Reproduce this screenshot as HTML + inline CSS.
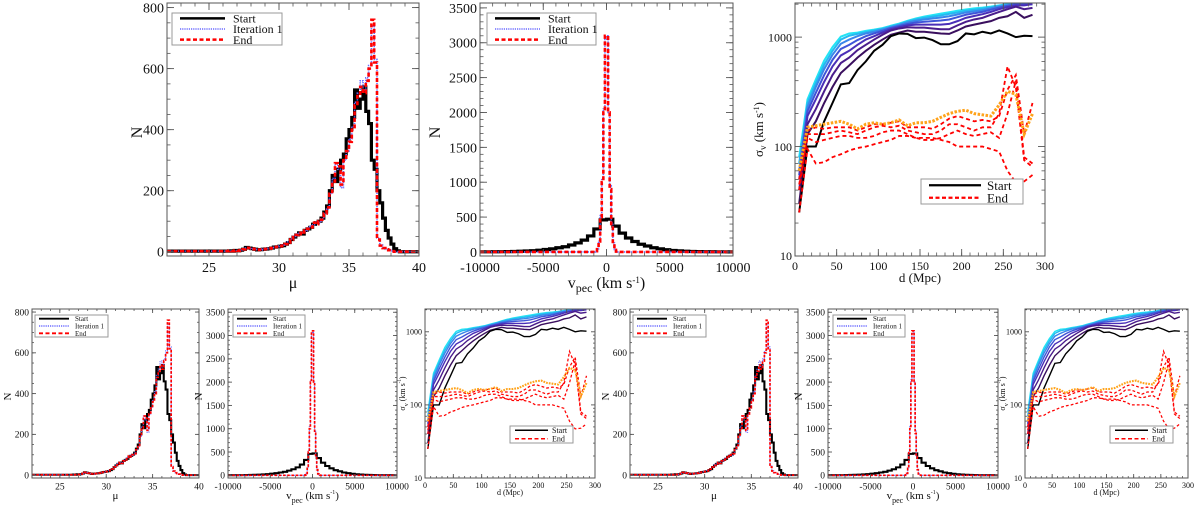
<!DOCTYPE html>
<html><head><meta charset="utf-8">
<style>
html,body{margin:0;padding:0;background:#fff;}
svg{display:block;}
svg text{font-family:"Liberation Serif","DejaVu Serif",serif;}
</style></head>
<body>
<svg id="fig" width="1200" height="508" viewBox="0 0 1200 508" xmlns="http://www.w3.org/2000/svg" font-family="Liberation Serif, serif"></svg>
<script>
// ---------- data ----------
const muStart = 26.0, muStep = 0.2;
const muCountsStart = [2,2,3,2,4,3,5,8,14,12,10,8,6,7,8,9,10,12,15,16,18,20,25,30,40,48,55,62,58,70,75,80,90,95,100,110,130,150,200,250,230,270,300,320,370,400,440,530,470,500,540,460,420,300,270,200,160,110,70,45,25,10,3,0,0];
const muCountsIter = [2,3,2,3,3,4,5,9,12,13,9,8,7,6,9,10,11,13,14,17,19,22,26,32,42,50,58,60,62,68,78,85,88,98,96,108,125,140,190,240,290,270,210,300,330,370,410,490,520,560,530,570,610,740,630,45,22,12,8,5,2,0,0,0,0];
const muCountsEnd = [2,2,3,2,4,3,5,8,13,12,10,8,6,7,8,9,10,12,15,16,18,20,25,30,40,48,55,62,58,70,75,80,95,90,100,105,125,145,190,230,290,280,220,300,330,360,400,480,510,540,520,560,600,760,620,40,20,12,8,5,2,0,0,0,0];

const vStart = -10000, vStep = 500;
const vCountsStart = [2,2,3,4,5,7,10,14,18,25,35,45,60,75,100,130,170,230,330,460,470,370,270,200,150,110,85,60,45,32,22,15,10,7,5,4,3,2,2,1];
const vFineStart = -1000, vFineStep = 125;
const vCountsIter = [0,12,45,160,520,1050,2050,3050,3100,2000,950,420,130,35,6,0];
const vCountsEnd = [0,10,40,150,500,1000,2000,3100,3100,2000,900,400,120,30,5,0];

const dGrid = [5,15,25,35,45,55,65,75,85,95,105,115,125,135,145,155,165,175,185,195,205,215,225,235,245,255,265,275,285];
const sigStart = [25,100,100,170,250,370,380,500,600,750,850,1020,1080,1070,980,990,940,860,860,920,1080,1060,1120,1080,1150,1080,1000,1030,1020];
const sigIt1 = [30,130,170,250,350,470,550,650,750,850,950,1050,1100,1150,1120,1120,1100,1080,1070,1150,1250,1300,1350,1400,1500,1550,1700,1500,1600];
const sigIt2 = [40,160,220,320,450,580,650,760,850,950,1050,1150,1200,1230,1220,1220,1200,1180,1180,1280,1380,1450,1500,1600,1700,1800,1900,1800,1850];
const sigIt3 = [50,190,270,390,540,680,750,850,950,1020,1100,1180,1230,1280,1300,1300,1300,1300,1320,1400,1500,1560,1620,1700,1800,1880,1950,1950,2000];
const sigIt4 = [55,210,310,450,620,780,850,940,1020,1080,1140,1210,1260,1320,1360,1380,1400,1420,1450,1520,1600,1650,1700,1780,1860,1930,2000,2000,2000];
const sigIt5 = [60,230,350,510,690,870,950,1020,1080,1120,1170,1230,1290,1360,1410,1450,1480,1510,1550,1610,1680,1720,1760,1830,1900,1960,2000,2000,2000];
const sigIt6 = [70,250,380,560,750,950,1030,1070,1110,1150,1190,1250,1310,1390,1450,1500,1540,1580,1630,1680,1740,1780,1820,1870,1930,1990,2000,2000,2000];
const sigIt7 = [80,270,410,610,810,1010,1080,1100,1140,1170,1210,1270,1330,1410,1480,1540,1590,1640,1690,1740,1790,1830,1860,1900,1950,2000,2000,2000,2000];
const sigOrange = [60,150,155,160,165,170,160,145,160,165,160,165,175,155,165,165,170,185,200,210,215,200,195,190,240,320,300,130,200];
const sigEnd1 = [25,95,70,72,80,85,92,97,100,105,110,115,125,125,120,120,120,115,110,100,100,100,100,95,90,60,47,48,55];
const sigEnd2 = [45,120,110,115,120,125,125,120,120,125,135,140,140,130,120,115,115,120,130,140,130,125,130,135,120,200,400,80,70];
const sigEnd3 = [40,130,130,130,135,140,135,130,140,150,155,150,155,140,135,130,130,140,160,160,150,140,150,150,200,540,350,75,65];
const sigEnd4 = [50,140,150,145,150,150,150,140,150,160,160,165,170,150,150,150,145,160,180,190,180,170,175,170,190,330,450,130,250];

const muTicks = [25,30,35,40];
const muYTicks = [0,200,400,600,800];
const vTicks = [-10000,-5000,0,5000,10000];
const vYTicks = [0,500,1000,1500,2000,2500,3000,3500];
const dTicks = [0,50,100,150,200,250,300];
const sYTicks = [10,100,1000];

// ---------- helpers ----------
const NS = 'http://www.w3.org/2000/svg';
const FONT = '"Liberation Serif", serif';
const svg = document.getElementById('fig');
function mk(tag, parent, attrs){
  const e = document.createElementNS(NS, tag);
  for (const k in attrs) e.setAttribute(k, attrs[k]);
  if (tag === 'text') e.style.fontFamily = FONT;
  parent.appendChild(e);
  return e;
}
function scaleLin(d0,d1,r0,r1){return v => r0 + (v-d0)/(d1-d0)*(r1-r0);}
function scaleLog(d0,d1,r0,r1){return v => r0 + (Math.log10(v)-Math.log10(d0))/(Math.log10(d1)-Math.log10(d0))*(r1-r0);}

function axes(g, P, X, Y, xt, yt, xMinor, yMinor, fs, big){
  const frame = mk('rect', g, {x:P.x0, y:P.y0, width:P.x1-P.x0, height:P.y1-P.y0, fill:'none', stroke:'#555', 'stroke-width':1});
  
  
  const tl = big?7:4, tm = big?3.5:2;
  xMinor.forEach(v=>{const x=X(v); if(x<P.x0||x>P.x1)return;
    mk('line',g,{x1:x,x2:x,y1:P.y1,y2:P.y1-tm,stroke:'#555','stroke-width':0.8});
    mk('line',g,{x1:x,x2:x,y1:P.y0,y2:P.y0+tm,stroke:'#555','stroke-width':0.8});});
  yMinor.forEach(v=>{const y=Y(v); if(y<P.y0||y>P.y1)return;
    mk('line',g,{x1:P.x0,x2:P.x0+tm,y1:y,y2:y,stroke:'#555','stroke-width':0.8});
    mk('line',g,{x1:P.x1,x2:P.x1-tm,y1:y,y2:y,stroke:'#555','stroke-width':0.8});});
  xt.forEach(v=>{const x=X(v);
    mk('line',g,{x1:x,x2:x,y1:P.y1,y2:P.y1-tl,stroke:'#555','stroke-width':0.9});
    mk('line',g,{x1:x,x2:x,y1:P.y0,y2:P.y0+tl,stroke:'#555','stroke-width':0.9});
    const t = mk('text',g,{x:x,y:P.y1+fs+2,'font-size':fs,'text-anchor':'middle',fill:'#111'});
    t.textContent = String(v);
    
    });
  yt.forEach(v=>{const y=Y(v);
    mk('line',g,{x1:P.x0,x2:P.x0+tl,y1:y,y2:y,stroke:'#555','stroke-width':0.9});
    mk('line',g,{x1:P.x1,x2:P.x1-tl,y1:y,y2:y,stroke:'#555','stroke-width':0.9});
    const t = mk('text',g,{x:P.x0-3,y:y+fs*0.35,'font-size':fs,'text-anchor':'end',fill:'#111'});
    t.textContent = String(v);
    
    });
}
function range(a,b,s){const r=[];for(let v=a;v<=b+1e-9;v+=s)r.push(+v.toFixed(4));return r;}

function stepPath(start, step, counts, X, Y, x0, xEnd){
  let d = 'M'+X(x0)+','+Y(counts[0]);
  counts.forEach((c,i)=>{const e=start+i*step; d+=' L'+X(e)+','+Y(c)+' L'+X(e+step)+','+Y(c);});
  if (xEnd!==undefined) d+=' L'+X(xEnd)+','+Y(counts[counts.length-1]);
  return d;
}
function linePath(xs, ys, X, Y){return ys.map((v,i)=>(i?'L':'M')+X(xs[i])+','+Y(v)).join(' ');}

function legend(g, L, items, fs){
  const box = mk('rect', g, {x:L.x, y:L.y, width:L.w, height:L.h, fill:'#fff', stroke:'#999', 'stroke-width':1});
  
  
  const rh = L.h/items.length;
  items.forEach((it,i)=>{
    const yy = L.y + rh*(i+0.5);
    const ln = mk('line', g, {x1:L.x+L.pad, x2:L.x+L.pad+L.ll, y1:yy, y2:yy, stroke:it.c, 'stroke-width':it.w, 'stroke-dasharray':it.da||'none'});
    
    
    const t = mk('text', g, {x:L.x+L.pad+L.ll+L.gap, y:yy+fs*0.35, 'font-size':fs, fill:'#111'});
    t.textContent = it.t;
    
    
  });
}
function ylabel(g, x, y, fs, html){
  const t = mk('text', g, {x:x, y:y, 'font-size':fs, 'text-anchor':'middle', transform:'rotate(-90 '+x+' '+y+')', fill:'#111'});
  t.innerHTML = html;
  
  
}
function xlabel(g, x, y, fs, html){
  const t = mk('text', g, {x:x, y:y, 'font-size':fs, 'text-anchor':'middle', fill:'#111'});
  t.innerHTML = html;
  
  
}
const BLUE = '#6a6aff';

// ---------- panels ----------
function muPanel(P, big){
  const g = mk('g', svg, {});
  
  
  const X = scaleLin(22,40,P.x0,P.x1), Y = scaleLin(-14,815,P.y1,P.y0);
  const s = big?1:0.65;
  const ps = mk('path', g, {d:stepPath(muStart,muStep,muCountsStart,X,Y,22,40), fill:'none', stroke:'#000', 'stroke-width':3.2*s});
  
  
  const pi = mk('path', g, {d:stepPath(muStart,muStep,muCountsIter,X,Y,22,40), fill:'none', stroke:BLUE, 'stroke-width':1.6*s, 'stroke-dasharray':'1.2,1'});
  
  
  const pe = mk('path', g, {d:stepPath(muStart,muStep,muCountsEnd,X,Y,22,40), fill:'none', stroke:'#f00', 'stroke-width':2.6*s, 'stroke-dasharray':(4*s)+','+(2.5*s)});
  
  
  const fs = big?14:9.5;
  axes(g,P,X,Y,muTicks,muYTicks,range(22,40,1),range(0,800,50),fs,big);
  legend(g, big?{x:P.x0+5,y:P.y0+10,w:110,h:32,pad:8,ll:45,gap:8}:{x:P.x0+3,y:P.y0+6,w:73,h:22,pad:4,ll:30,gap:6},
    [{t:'Start',c:'#000',w:big?2.5:1.8},{t:'Iteration 1',c:BLUE,w:1.4,da:'1.2,1'},{t:'End',c:'#f00',w:big?2.5:1.8,da:'4,2.5'}], big?12:7);
  ylabel(g, P.x0-(big?25:21), (P.y0+P.y1)/2+3, big?16:11, 'N');
  xlabel(g, (P.x0+P.x1)/2, P.y1+(big?32:21), big?16:11, 'μ');
}
function vPanel(P, big){
  const g = mk('g', svg, {});
  
  
  const X = scaleLin(-10000,10000,P.x0,P.x1), Y = scaleLin(-58,3570,P.y1,P.y0);
  const s = big?1:0.65;
  const ps = mk('path', g, {d:stepPath(vStart,vStep,vCountsStart,X,Y,-10000,10000), fill:'none', stroke:'#000', 'stroke-width':3.2*s});
  
  
  const dIt = 'M'+X(-10000)+','+Y(0)+' L'+X(vFineStart)+','+Y(0)+' '+stepPath(vFineStart,vFineStep,vCountsIter,X,Y,vFineStart).replace('M','L')+' L'+X(10000)+','+Y(0);
  const pi = mk('path', g, {d:dIt, fill:'none', stroke:BLUE, 'stroke-width':1.6*s, 'stroke-dasharray':'1.2,1'});
  
  
  const dEnd = 'M'+X(-10000)+','+Y(0)+' L'+X(vFineStart)+','+Y(0)+' '+stepPath(vFineStart,vFineStep,vCountsEnd,X,Y,vFineStart).replace('M','L')+' L'+X(10000)+','+Y(0);
  const pe = mk('path', g, {d:dEnd, fill:'none', stroke:'#f00', 'stroke-width':2.6*s, 'stroke-dasharray':(4*s)+','+(2.5*s)});
  
  
  const fs = big?14:9.5;
  axes(g,P,X,Y,vTicks,vYTicks,range(-10000,10000,1000),range(0,3500,100),fs,big);
  legend(g, big?{x:P.x0+7,y:P.y0+10,w:109,h:32,pad:8,ll:45,gap:8}:{x:P.x0+5,y:P.y0+6,w:72,h:22,pad:4,ll:30,gap:6},
    [{t:'Start',c:'#000',w:big?2.5:1.8},{t:'Iteration 1',c:BLUE,w:1.4,da:'1.2,1'},{t:'End',c:'#f00',w:big?2.5:1.8,da:'4,2.5'}], big?12:7);
  ylabel(g, P.x0-(big?40:26), (P.y0+P.y1)/2+3, big?16:11, 'N');
  xlabel(g, (P.x0+P.x1)/2, P.y1+(big?32:21), big?16:11, 'v<tspan font-size="'+(big?12:8)+'" dy="4">pec</tspan><tspan dy="-4"> (km s</tspan><tspan font-size="'+(big?9:6)+'" dy="-5">-1</tspan><tspan dy="5">)</tspan>');
}
function sPanel(P, big){
  const g = mk('g', svg, {});
  
  
  const X = scaleLin(0,300,P.x0,P.x1), Y = scaleLog(10,2050,P.y1,P.y0);
  const cp = mk('clipPath', g, {id:'clip'+P.x0});
  mk('rect', cp, {x:P.x0,y:P.y0,width:P.x1-P.x0,height:P.y1-P.y0});
  const inner = mk('g', g, {'clip-path':'url(#clip'+P.x0+')'});
  const s = big?1:0.7;
  const its = [sigIt7,sigIt6,sigIt5,sigIt4,sigIt3,sigIt2,sigIt1];
  const cols = ['#22e4f4','#26b8f0','#3a86ea','#3f55d8','#4a2fb8','#4a1c8c','#3a0f5e'];
  its.forEach((arr,i)=>{
    const p = mk('path', inner, {d:linePath(dGrid,arr,X,Y), fill:'none', stroke:cols[i], 'stroke-width':2*s});
    
    
  });
  const pk = mk('path', inner, {d:linePath(dGrid,sigStart,X,Y), fill:'none', stroke:'#000', 'stroke-width':2*s});
  
  
  [sigEnd1,sigEnd2,sigEnd3,sigEnd4].forEach(arr=>{
    const p = mk('path', inner, {d:linePath(dGrid,arr,X,Y), fill:'none', stroke:'#f00', 'stroke-width':1.8*s, 'stroke-dasharray':(4*s)+','+(3*s)});
    
    
  });
  const po = mk('path', inner, {d:linePath(dGrid,sigOrange,X,Y), fill:'none', stroke:'#ffa31a', 'stroke-width':3*s, 'stroke-dasharray':(2.5*s)+','+(1.5*s)});
  
  
  const minor=[];[10,100,1000].forEach(d=>{for(let k=2;k<=9;k++)minor.push(d*k);});
  const fs = big?12:8;
  axes(g,P,X,Y,dTicks,sYTicks,range(0,300,10),minor,fs,big);
  legend(g, big?{x:P.x0+126,y:P.y0+176,w:102,h:25,pad:8,ll:52,gap:6}:{x:P.x0+85,y:P.y0+117,w:63,h:17,pad:5,ll:33,gap:4},
    [{t:'Start',c:'#000',w:big?2.2:1.6},{t:'End',c:'#f00',w:big?2.2:1.6,da:'4,2.5'}], big?13:8);
  ylabel(g, P.x0-(big?32:20), (P.y0+P.y1)/2, big?13:8, 'σ<tspan font-size="'+(big?9:6)+'" dy="3">v</tspan><tspan dy="-3"> (km s</tspan><tspan font-size="'+(big?8:5)+'" dy="-4">-1</tspan><tspan dy="4">)</tspan>');
  xlabel(g, (P.x0+P.x1)/2, P.y1+(big?26:17), big?13:8, 'd (Mpc)');
}

muPanel({x0:167,x1:419,y0:3,y1:256}, true);
vPanel({x0:480,x1:733,y0:3,y1:256}, true);
sPanel({x0:795,x1:1045,y0:3,y1:256}, true);
muPanel({x0:32,x1:199,y0:309,y1:478}, false);
vPanel({x0:228,x1:397,y0:309,y1:478}, false);
sPanel({x0:425,x1:595,y0:309,y1:478}, false);
muPanel({x0:630,x1:798,y0:309,y1:478}, false);
vPanel({x0:828,x1:998,y0:309,y1:478}, false);
sPanel({x0:1025,x1:1188,y0:309,y1:478}, false);
</script>
</body></html>
